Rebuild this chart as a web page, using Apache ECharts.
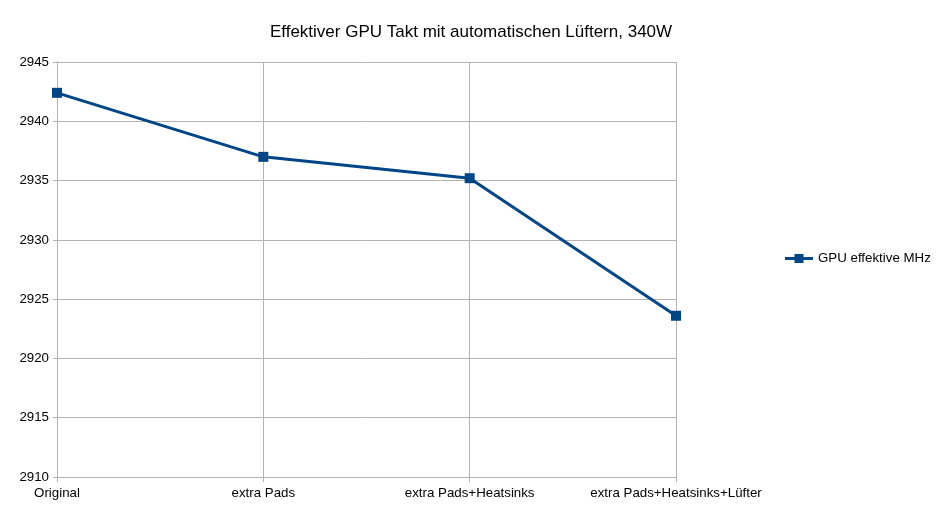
<!DOCTYPE html>
<html><head><meta charset="utf-8">
<script src="https://cdn.jsdelivr.net/npm/echarts@6/dist/echarts.min.js"></script>
<style>html,body{margin:0;padding:0;background:#fff}#c{width:943px;height:512px}</style>
</head><body><div id="c"></div>
<script>
const title = 'Effektiver GPU Takt mit automatischen Lüftern, 340W';
const categories = ['Original', 'extra Pads', 'extra Pads+Heatsinks', 'extra Pads+Heatsinks+Lüfter'];
const seriesName = 'GPU effektive MHz';
const values = [2942.4, 2937.0, 2935.2, 2923.6];
const yMin = 2910, yMax = 2945, yStep = 5;

const chart = echarts.init(document.getElementById('c'), null, {renderer: 'canvas'});
const font = '"Liberation Sans", Arial, sans-serif';
chart.setOption({
  animation: false,
  backgroundColor: '#fff',
  title: {text: title, left: 466, top: 19, textAlign: 'center',
    textStyle: {fontFamily: font, fontSize: 17, fontWeight: 'normal', color: '#000'}},
  legend: {data: [{name: seriesName, icon: 'path://M0,3.5H9.5V0.5H18.5V3.5H28V6.5H18.5V9.5H9.5V6.5H0Z'}],
    orient: 'vertical', left: 780, top: 247,
    itemWidth: 28, itemHeight: 10, itemGap: 5,
    textStyle: {fontFamily: font, fontSize: 13.3, color: '#000'}},
  grid: {left: 57, right: 267, top: 62, bottom: 35, containLabel: false},
  xAxis: {type: 'category', data: categories, boundaryGap: false,
    axisLine: {lineStyle: {color: '#b3b3b3', width: 1}},
    axisTick: {show: true, length: 5, lineStyle: {color: '#b3b3b3'}},
    axisLabel: {fontFamily: font, fontSize: 13.3, color: '#000', margin: 10, interval: 0},
    splitLine: {show: true, lineStyle: {color: '#b3b3b3', width: 1}}},
  yAxis: {type: 'value', min: yMin, max: yMax, interval: yStep,
    axisLine: {show: true, lineStyle: {color: '#b3b3b3', width: 1}},
    axisTick: {show: true, length: 4, lineStyle: {color: '#b3b3b3'}},
    axisLabel: {fontFamily: font, fontSize: 13.3, color: '#000', margin: 8,
      formatter: v => String(v)},
    splitLine: {show: true, lineStyle: {color: '#b3b3b3', width: 1}}},
  series: [{name: seriesName, type: 'line', data: values,
    symbol: 'rect', symbolSize: 10,
    lineStyle: {color: '#004586', width: 3},
    itemStyle: {color: '#004586'}}]
});
</script></body></html>
